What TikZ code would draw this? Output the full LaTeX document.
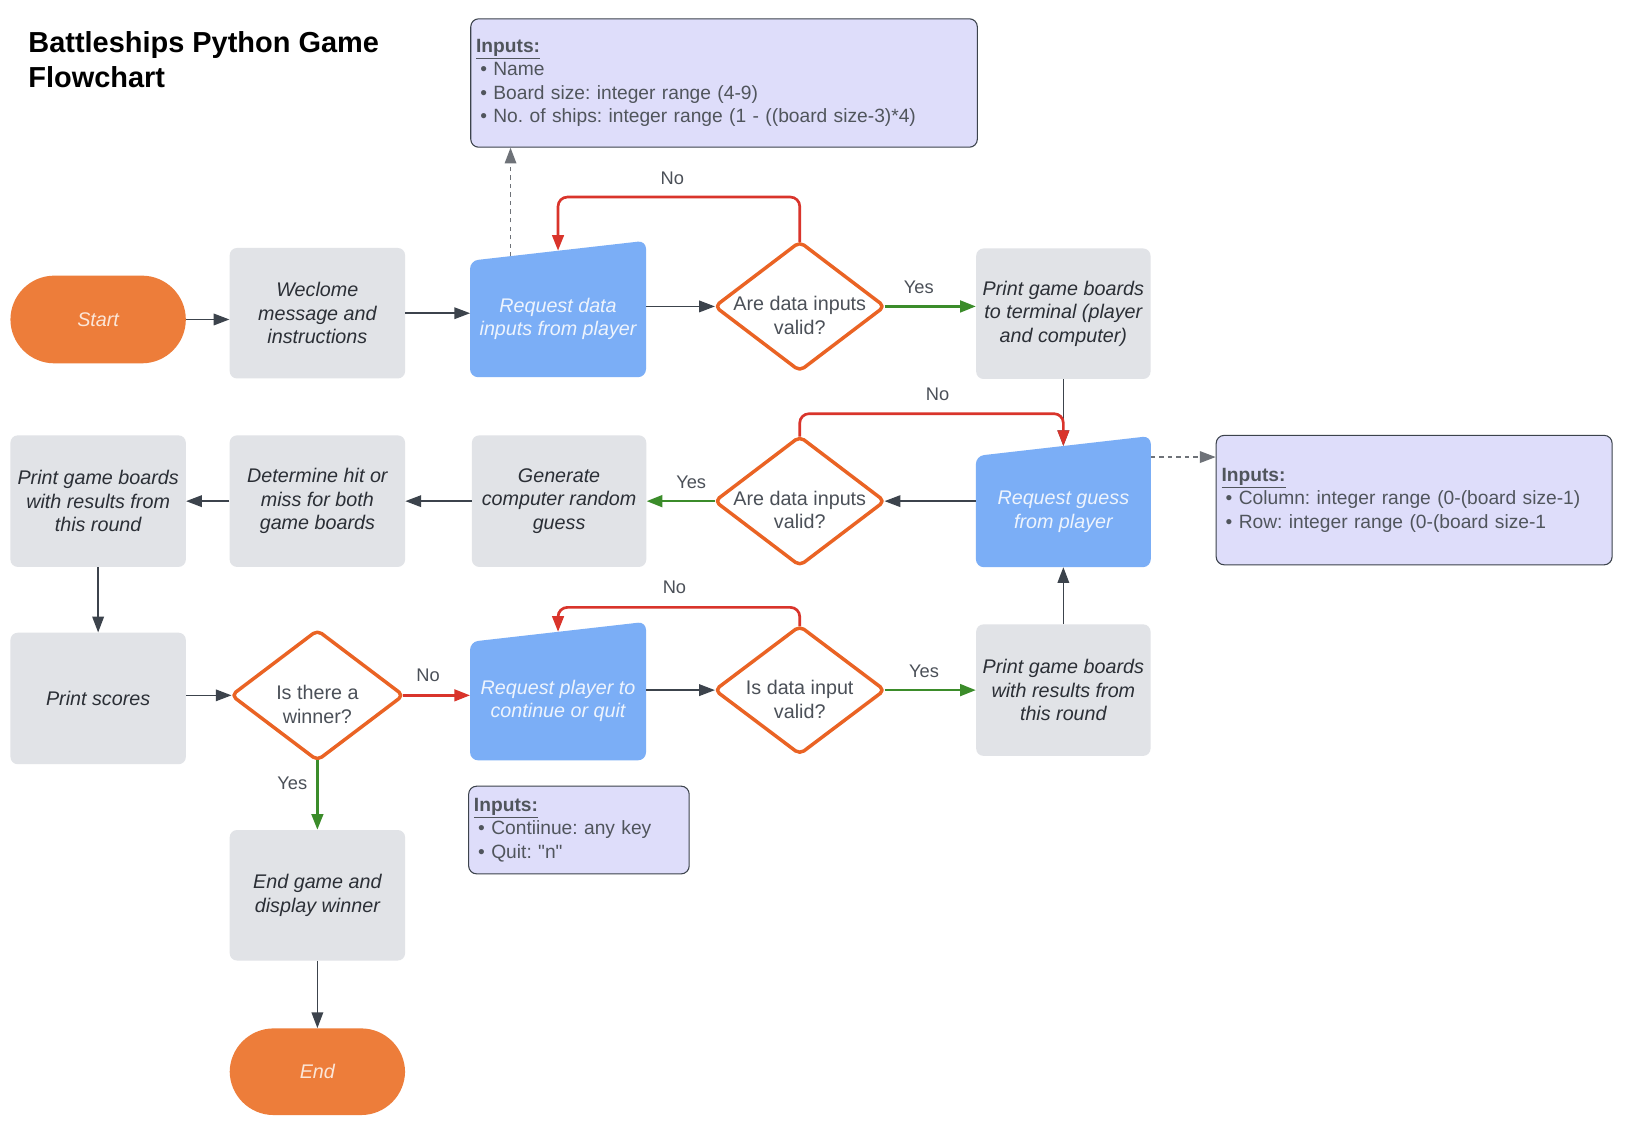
\documentclass[tikz,border=0pt]{standalone}
\usepackage{fontspec}
\setmainfont{Liberation Sans}[Ligatures=TeXOff]
\frenchspacing
\usetikzlibrary{arrows.meta,calc,backgrounds}
\newlength\U \setlength\U{0.783pt}
\newcommand\bxfont{\fontsize{14.8pt}{17.6pt}\selectfont}
\newcommand\infont{\fontsize{14.4pt}{17.5pt}\selectfont}
\newcommand\lbfont{\fontsize{13.7pt}{16pt}\selectfont}
\newcommand\ttlfont{\fontsize{21.7pt}{26.2pt}\selectfont\bfseries}
\definecolor{orangeFill}{HTML}{ED7D3A}
\definecolor{pillText}{HTML}{FBE6D8}
\definecolor{grayFill}{HTML}{E1E3E7}
\definecolor{boxText}{HTML}{2B2F36}
\definecolor{blueFill}{HTML}{7BAEF6}
\definecolor{blueText}{HTML}{EEF4FD}
\definecolor{diaLine}{HTML}{EA6324}
\definecolor{diaText}{HTML}{4B5058}
\definecolor{noRed}{HTML}{D9342B}
\definecolor{yesGreen}{HTML}{3B8C2A}
\definecolor{connCol}{HTML}{3C434C}
\definecolor{dashCol}{HTML}{6E7278}
\definecolor{inFill}{HTML}{DEDDFA}
\definecolor{inText}{HTML}{50555C}
\begin{document}
\begin{tikzpicture}[x=0.783pt,y=-0.783pt,
  pill/.style={rectangle, rounded corners=33pt, fill=orangeFill, text=pillText,
    font=\bxfont\itshape, minimum width=168\U, minimum height=84\U, inner sep=0pt},
  gbox/.style={rectangle, rounded corners=5.5pt, fill=grayFill, text=boxText,
    font=\bxfont\itshape, align=center, minimum width=168\U, minimum height=125\U, inner sep=0pt},
  bbox/.style={rectangle, text=blueText, font=\bxfont\itshape, align=center,
    minimum width=168\U, inner sep=0pt},
  dshape/.style={rectangle, minimum width=162\U, minimum height=123\U, inner sep=0pt},
  dtext/.style={text=diaText, font=\bxfont, align=center, inner sep=0pt},
  dline/.style={draw=diaLine, line width=2.6pt, rounded corners=4pt, line join=round},
  inbox/.style={rectangle, rounded corners=6pt, fill=inFill, draw=connCol, line width=0.8pt,
    text=inText, font=\infont, align=left, inner xsep=4pt, inner ysep=0pt},
  tip/.style={-{Triangle[length=11.8pt,width=8.7pt]}},
  conn/.style={tip, draw=connCol, line width=1.1pt},
  dashconn/.style={tip, draw=dashCol, line width=1.1pt, dash pattern=on 3.2pt off 3.2pt},
  noline/.style={tip, draw=noRed, line width=2pt, rounded corners=7pt},
  yesline/.style={tip, draw=yesGreen, line width=2pt},
  lbl/.style={text=diaText, font=\lbfont, inner sep=0pt}
]
\useasboundingbox (0,0) rectangle (1567,1090);

% title
\node[anchor=north west, inner sep=0pt, align=left, font=\ttlfont, text=black] (title) at (27,30)
  {Battleships Python Game\\Flowchart};

% row 1
\node[pill] (start) at (94,306) {Start};
\node[gbox] (welcome) at (304,300) {Weclome\\message and\\instructions};
\node[bbox, minimum height=111\U] (req1) at (534.5,305.5) {Request data\\inputs from player};
\node[dshape] (d1) at (766,293.5) {};
\node[gbox, minimum width=167\U] (print1) at (1018.5,300.5) {Print game boards\\to terminal (player\\and computer)};

% row 2
\node[bbox, minimum height=106\U, minimum width=167\U] (req2) at (1018.5,490) {Request guess\\from player};
\node[dshape] (d2) at (766,480) {};
\node[gbox, minimum width=167\U, minimum height=126\U] (gen) at (535.5,480) {Generate\\computer random\\guess};
\node[gbox, minimum height=126\U] (det) at (304,480) {Determine hit or\\miss for both\\game boards};
\node[gbox, minimum height=126\U] (print2) at (94,480) {Print game boards\\with results from\\this round};

% row 3
\node[gbox, minimum height=126\U] (scores) at (94,669) {Print scores};
\node[dshape, minimum width=164\U, minimum height=124\U] (d3) at (304,666) {};
\node[bbox, minimum height=113\U] (req3) at (534.5,671.5) {Request player to\\continue or quit};
\node[dshape, minimum height=122\U] (d4) at (766,661) {};
\node[gbox, minimum width=167\U, minimum height=126\U] (print3) at (1018.5,661) {Print game boards\\with results from\\this round};

% row 4-5
\node[gbox] (endgame) at (304,857.5) {End game and\\display winner};
\node[pill, minimum height=83\U] (endn) at (304,1026.5) {End};

% diamond texts (set slightly below the centre, as in the reference)
\node[dtext] (d1t) at ([yshift=-6.7pt]d1.center) {Are data inputs\\valid?};
\node[dtext] (d2t) at ([yshift=-6.7pt]d2.center) {Are data inputs\\valid?};
\node[dtext] (d3t) at ([yshift=-6.7pt]d3.center) {Is there a\\winner?};
\node[dtext] (d4t) at ([yshift=-6.9pt]d4.center) {Is data input\\valid?};

% input notes
\node[inbox, text width=475\U, minimum height=123\U] (in1) at (693.5,79.5)
  {\underline{\textbf{Inputs:}}\\
   \hspace*{4\U}• Name\\
   \hspace*{4\U}• Board size: integer range (4-9)\\
   \hspace*{4\U}• No. of ships: integer range (1 - ((board size-3)*4)};
\node[inbox, text width=369\U, minimum height=124\U] (in2) at (1354.5,479)
  {\underline{\textbf{Inputs:}}\\
   \hspace*{4\U}• Column: integer range (0-(board size-1)\\
   \hspace*{4\U}• Row: integer range (0-(board size-1};
\node[inbox, text width=201\U, minimum height=84\U] (in3) at (554.5,795)
  {\underline{\textbf{Inputs:}}\\
   \hspace*{4\U}• Contiinue: any key\\
   \hspace*{4\U}• Quit: "n"};

% diamonds outlines
\foreach \d in {d1,d2,d3,d4}
  \draw[dline] (\d.north) -- (\d.east) -- (\d.south) -- (\d.west) -- cycle;

% background: white page and blue input shapes
\begin{pgfonlayer}{background}
  \fill[white] (0,0) rectangle (1567,1090);
  \foreach \r in {req1,req2,req3}
    \fill[blueFill, rounded corners=6pt] (\r.south west) -- (\r.south east)
      -- ([yshift=15pt]\r.north east) -- (\r.north west) -- cycle;
\end{pgfonlayer}

% helper coordinates
\coordinate (req1top) at ([yshift=7.5pt]req1.north);
\coordinate (req2top) at ([yshift=7.5pt]req2.north);
\coordinate (req3top) at ([yshift=7.5pt]req3.north);
\coordinate (r1d) at (489,245.6);
\coordinate (r2d) at ([yshift=-0.8pt]req2.north east);

% connectors
\draw[conn] (start.east) -- (start.east -| welcome.west);
\draw[conn] (welcome.east) -- (welcome.east -| req1.west);
\draw[conn] (d1.west -| req1.east) -- (d1.west);
\draw[yesline] (d1.east) -- (d1.east -| print1.west);
\draw[noline] (d1.north) -- ++(0,-43) -| (req1top);
\draw[dashconn] (r1d) -- (r1d |- in1.south);
\draw[conn] (print1.south) -- (req2top);
\draw[noline] (d2.north) -- ++(0,-22) -| (req2top);
\draw[dashconn] (r2d) -- (r2d -| in2.west);
\draw[conn] (d2.east -| req2.west) -- (d2.east);
\draw[yesline] (d2.west) -- (d2.west -| gen.east);
\draw[conn] (gen.west) -- (gen.west -| det.east);
\draw[conn] (det.west) -- (det.west -| print2.east);
\draw[conn] (print2.south) -- (scores.north);
\draw[conn] (d3.west -| scores.east) -- (d3.west);
\draw[noline] (d3.east) -- (d3.east -| req3.west);
\draw[conn] (d4.west -| req3.east) -- (d4.west);
\draw[noline] (d4.north) -- ++(0,-18) -| (req3top);
\draw[yesline] (d4.east) -- (d4.east -| print3.west);
\draw[conn] (print3.north) -- (req2.south);
\draw[yesline] (d3.south) -- (endgame.north);
\draw[conn] (endgame.south) -- (endn.north);

% labels
\node[lbl] (lno1) at (644,171) {No};
\node[lbl] (lyes1) at (880,275) {Yes};
\node[lbl] (lno2) at (898,378) {No};
\node[lbl] (lyes2) at (662,462) {Yes};
\node[lbl] (lno3) at (646,563) {No};
\node[lbl] (lno4) at (410,647) {No};
\node[lbl] (lyes3) at (885,643) {Yes};
\node[lbl] (lyes4) at (280,750) {Yes};
\end{tikzpicture}
\end{document}
